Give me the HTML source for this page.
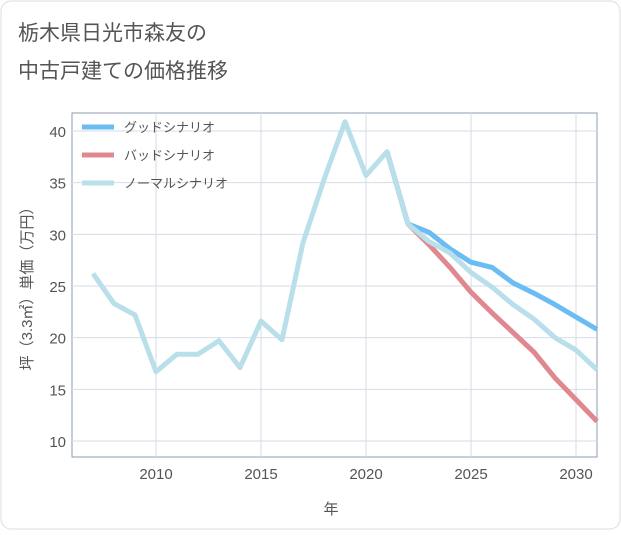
<!DOCTYPE html>
<html><head><meta charset="utf-8"><style>
body{margin:0;background:#fff;}
#wrap{width:621px;height:530px;position:relative;background:#fff;}
svg text{font-family:"Liberation Sans","Noto Sans CJK JP",sans-serif;}
</style></head><body>
<div id="wrap">
<svg id="chart" width="621" height="530">
<rect x="1" y="1" width="619" height="528" rx="10" fill="#fff" stroke="#ddd"/>
<text x="18" y="40" font-size="21" fill="#555">栃木県日光市森友の</text>
<text x="18" y="78" font-size="21" fill="#555">中古戸建ての価格推移</text>
<g id="grid"></g><g id="series"></g><g id="legend"></g>
<text x="331" y="514" font-size="15" fill="#555" text-anchor="middle">年</text>
<text transform="translate(32,285) rotate(-90)" font-size="15" fill="#555" text-anchor="middle">坪（3.3㎡）単価（万円）</text>
</svg></div>
<script>
const years=[2007,2008,2009,2010,2011,2012,2013,2014,2015,2016,2017,2018,2019,2020,2021,2022,2023,2024,2025,2026,2027,2028,2029,2030,2031];
const normalValues=[26.2,23.3,22.2,16.7,18.4,18.4,19.7,17.1,21.6,19.8,29.2,35.3,40.9,35.7,38.0,31.0,29.3,28.2,26.3,24.9,23.2,21.8,20.0,18.8,16.9];
const goodYears=[2021,2022,2023,2024,2025,2026,2027,2028,2029,2030,2031];
const goodValues=[38.0,31.0,30.2,28.6,27.3,26.8,25.3,24.3,23.2,22.0,20.8];
const badValues=[38.0,31.0,29.0,26.8,24.4,22.4,20.5,18.6,16.1,14.0,11.9];
const xTicks=[2010,2015,2020,2025,2030];
const yTicks=[10,15,20,25,30,35,40];
const L=72,R=597,T=113,B=457;
const x=v=>156+(v-2010)*21;
const y=v=>441-(v-10)*(310/30);
const NS="http://www.w3.org/2000/svg";
function mk(tag,at,parent){const e=document.createElementNS(NS,tag);for(const k in at)e.setAttribute(k,at[k]);parent.appendChild(e);return e;}
const g=document.getElementById('grid');
const bg=mk('rect',{x:L,y:T,width:R-L,height:B-T,fill:'#fff',stroke:'#8a9bb0'},g);


xTicks.forEach(t=>{
 const l=mk('line',{x1:x(t),x2:x(t),y1:T,y2:B,stroke:'#d5dde6'},g);
 
 
 const tx=mk('text',{x:x(t),y:B+22,'font-size':15,fill:'#555','text-anchor':'middle'},g);tx.textContent=t;
 
 
});
yTicks.forEach(t=>{
 const l=mk('line',{x1:L,x2:R,y1:y(t),y2:y(t),stroke:'#d5dde6'},g);
 
 
 const tx=mk('text',{x:L-6,y:y(t)+6,'font-size':15,fill:'#555','text-anchor':'end'},g);tx.textContent=t;
 
 
});
const s=document.getElementById('series');
function line(xs,vs,color,name){
 const p=mk('polyline',{points:xs.map((d,i)=>x(d)+','+y(vs[i])).join(' '),fill:'none',stroke:color,'stroke-width':5,'stroke-linejoin':'round'},s);
 
 
}
line(goodYears,badValues,'#e08890','bad-scenario-line');
line(goodYears,goodValues,'#6bbcf2','good-scenario-line');
line(years,normalValues,'#b9dfea','normal-scenario-line');
const lg=document.getElementById('legend');
[['グッドシナリオ','#6bbcf2'],['バッドシナリオ','#e08890'],['ノーマルシナリオ','#b9dfea']].forEach((d,i)=>{
 const yy=127+i*28;
 const l=mk('line',{x1:82,x2:114,y1:yy,y2:yy,stroke:d[1],'stroke-width':5},lg);
 
 
 const t=mk('text',{x:124,y:yy+5,'font-size':13,fill:'#555'},lg);t.textContent=d[0];
 
 
});
</script>
</body></html>
